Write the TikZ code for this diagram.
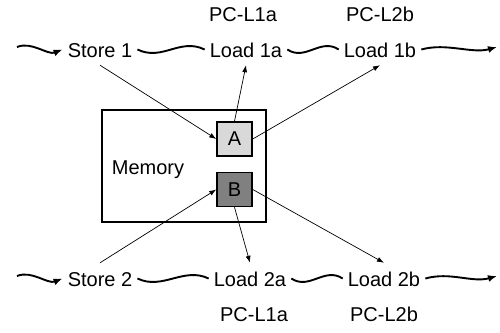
\documentclass[tikz,border=0pt]{standalone}
\usepackage{fontspec}
\setmainfont{Liberation Sans}
\usetikzlibrary{arrows.meta, positioning}
\definecolor{cellA}{HTML}{D9D9D9}
\definecolor{cellB}{HTML}{808080}

\begin{document}
\begin{tikzpicture}[x=1pt, y=-1pt, node distance=10pt,
  lbl/.style={font=\fontsize{20}{24}\selectfont, text height=15pt, text depth=0pt,
    inner xsep=5pt, inner ysep=8pt},
  pc/.style={lbl, inner ysep=2pt},
  cell/.style={draw, line width=1.5pt, minimum width=35pt, minimum height=34pt,
    inner sep=0pt, font=\fontsize{20}{24}\selectfont},
  membox/.style={draw, line width=1.5pt, minimum width=164pt, minimum height=112pt},
  wave/.style={line width=1.9pt},
  wavetip/.style={wave, -{Latex[length=9pt, width=7pt]}},
  link/.style={-{Latex[length=7pt, width=5pt]}, line width=0.7pt}]
  \useasboundingbox (0,0) rectangle (500,332);
  % memory and its two cells
  \node[membox] (mem) at (184,166) {};
  \node[lbl, anchor=base] (memlbl) at (148,174) {Memory};
  \node[cell, fill=cellA] (a) at (234.5,139) {A};
  \node[cell, fill=cellB] (b) at (234.5,189.5) {B};
  % first thread
  \node[lbl, anchor=base] (s1) at (100,57) {Store 1};
  \node[lbl, anchor=base] (l1a) at (246,57) {Load 1a};
  \node[lbl, anchor=base] (l1b) at (380,57) {Load 1b};
  \node[pc, above=of l1a, xshift=-3pt] (pc1a) {PC-L1a};
  \node[pc, above=of l1b] (pc1b) {PC-L2b};
  % second thread
  \node[lbl, anchor=base] (s2) at (100,286) {Store 2};
  \node[lbl, anchor=base] (l2a) at (250,286) {Load 2a};
  \node[lbl, anchor=base] (l2b) at (384,286) {Load 2b};
  \node[pc, below=of l2a, xshift=4pt] (pc2a) {PC-L1a};
  \node[pc, below=of l2b] (pc2b) {PC-L2b};
  \coordinate (in1) at (17,47);
  \coordinate (out1) at (497,47);
  \coordinate (in2) at (17,276);
  \coordinate (out2) at (497,276);
  % program order
  \draw[wavetip] (in1) .. controls +(15,-6) and +(-15,6) .. (s1.west);
  \draw[wave] (s1.east) .. controls +(25,12) and +(-25,-12) .. (l1a.west);
  \draw[wave] (l1a.east) .. controls +(18,12) and +(-18,-12) .. (l1b.west);
  \draw[wavetip] (l1b.east) .. controls +(25,-7) and +(-25,7) .. (out1);
  \draw[wavetip] (in2) .. controls +(15,-6) and +(-15,6) .. (s2.west);
  \draw[wave] (s2.east) .. controls +(25,12) and +(-25,-12) .. (l2a.west);
  \draw[wave] (l2a.east) .. controls +(18,12) and +(-18,-12) .. (l2b.west);
  \draw[wavetip] (l2b.east) .. controls +(25,-7) and +(-25,7) .. (out2);
  % memory accesses
  \draw[link] (s1.south) -- (a.west);
  \draw[link] (a.north) -- (l1a.south);
  \draw[link] (a.east) -- (l1b.south);
  \draw[link] (s2.north) -- (b.west);
  \draw[link] (b.south) -- (l2a.north);
  \draw[link] (b.east) -- (l2b.north);
\end{tikzpicture}
\end{document}
